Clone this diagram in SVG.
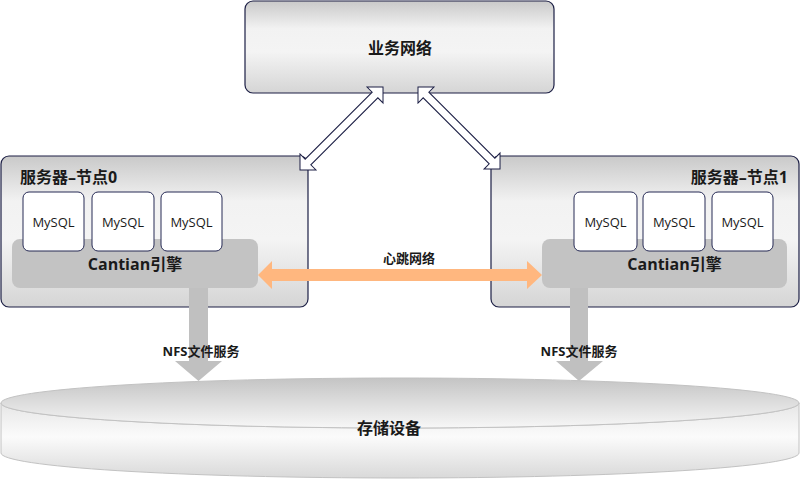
<svg xmlns="http://www.w3.org/2000/svg" width="801" height="479" viewBox="0 0 801 479">
<defs>
<linearGradient id="gBox" x1="0" y1="0" x2="0" y2="1">
<stop offset="0" stop-color="#c9c9c9"/>
<stop offset="0.3" stop-color="#f2f2f2"/>
<stop offset="0.55" stop-color="#f4f4f4"/>
<stop offset="1" stop-color="#d5d5d5"/>
</linearGradient>
<linearGradient id="gTop" x1="0" y1="0" x2="0" y2="1">
<stop offset="0" stop-color="#c4c4c4"/>
<stop offset="1" stop-color="#f7f7f7"/>
</linearGradient>
<linearGradient id="gBody" x1="0" y1="0" x2="0" y2="1">
<stop offset="0" stop-color="#e6e6e6"/>
<stop offset="0.45" stop-color="#fbfbfb"/>
<stop offset="1" stop-color="#d9d9d9"/>
</linearGradient>
<style>
.box{fill:url(#gBox);stroke:#1c1f45;stroke-width:1.2}
.eng{fill:#c3c3c3}
.my{fill:#ffffff;stroke:#262a55;stroke-width:1}
.cyl{stroke:#c2c2c2;stroke-width:1}
.hollow{fill:#ffffff;stroke:#1c1f45;stroke-width:1}
.nfs{fill:#c0c0c0}
.hb{fill:#ffb77f}
text{font-family:"Open Sans","Noto Sans CJK SC",sans-serif;fill:#1a1a1a}
.b{font-weight:bold}
.t16{font-size:16px}
.t13{font-size:13px}
.mid{text-anchor:middle}
</style>
</defs>

<g id="biz-net">
<rect class="box" x="245" y="1" width="309" height="92" rx="8"/>
<text class="b t16 mid" x="400" y="54">业务网络</text>
</g>

<g id="node0">
<rect class="box" x="1" y="156" width="307" height="151" rx="8"/>
<text class="b t16" x="20" y="183">服务器–节点0</text>
<g id="engine0">
<rect class="eng" x="12" y="239" width="246" height="49" rx="8"/>
<text class="b t16 mid" x="135" y="270">Cantian引擎</text>
</g>
<g id="mysql0a"><rect class="my" x="23" y="192" width="61" height="59" rx="6"/><text class="t13 mid" x="53.5" y="227">MySQL</text></g>
<g id="mysql0b"><rect class="my" x="92" y="192" width="62" height="59" rx="6"/><text class="t13 mid" x="123" y="227">MySQL</text></g>
<g id="mysql0c"><rect class="my" x="161" y="192" width="61" height="59" rx="6"/><text class="t13 mid" x="191.5" y="227">MySQL</text></g>
</g>

<g id="node1">
<rect class="box" x="491" y="156" width="308" height="151" rx="8"/>
<text class="b t16" x="788" y="183" text-anchor="end">服务器–节点1</text>
<g id="engine1">
<rect class="eng" x="542" y="239" width="245" height="49" rx="8"/>
<text class="b t16 mid" x="674.5" y="270">Cantian引擎</text>
</g>
<g id="mysql1a"><rect class="my" x="574" y="192" width="63" height="59" rx="6"/><text class="t13 mid" x="605.5" y="227">MySQL</text></g>
<g id="mysql1b"><rect class="my" x="643" y="192" width="62" height="59" rx="6"/><text class="t13 mid" x="674" y="227">MySQL</text></g>
<g id="mysql1c"><rect class="my" x="712" y="192" width="61" height="59" rx="6"/><text class="t13 mid" x="742.5" y="227">MySQL</text></g>
</g>

<g id="storage">
<path class="cyl" fill="url(#gBody)" d="M1,403 A399,25 0 0 0 799,403 L799,453 A399,25 0 0 1 1,453 Z"/>
<ellipse class="cyl" fill="url(#gTop)" cx="400" cy="403" rx="399" ry="25"/>
<text class="b t16 mid" x="389" y="434">存储设备</text>
</g>

<g id="connectors">
<g id="nfs0">
<polygon class="nfs" points="189,288 208,288 208,361 222,361 198.5,381 175,361 189,361"/>
<text class="b t13 mid" x="201" y="356">NFS文件服务</text>
</g>
<g id="nfs1">
<polygon class="nfs" points="570,288 588,288 588,361 603,361 579,381 556,361 570,361"/>
<text class="b t13 mid" x="579" y="356">NFS文件服务</text>
</g>
<g id="heartbeat">
<polygon class="hb" points="258,275 272,261 272,269 527,269 527,261 542,275 527,289 527,281 272,281 272,289"/>
<text class="b t13 mid" x="409" y="263">心跳网络</text>
</g>
<polygon class="hollow" transform="translate(300,170) rotate(-45)" points="0,0 11.3,-11.3 11.3,-4 106.1,-4 106.1,-11.3 117.4,0 106.1,11.3 106.1,4 11.3,4 11.3,11.3"/>
<polygon class="hollow" transform="translate(418,87) rotate(45)" points="0,0 11.3,-11.3 11.3,-4 104.7,-4 104.7,-11.3 116,0 104.7,11.3 104.7,4 11.3,4 11.3,11.3"/>
</g>
</svg>
